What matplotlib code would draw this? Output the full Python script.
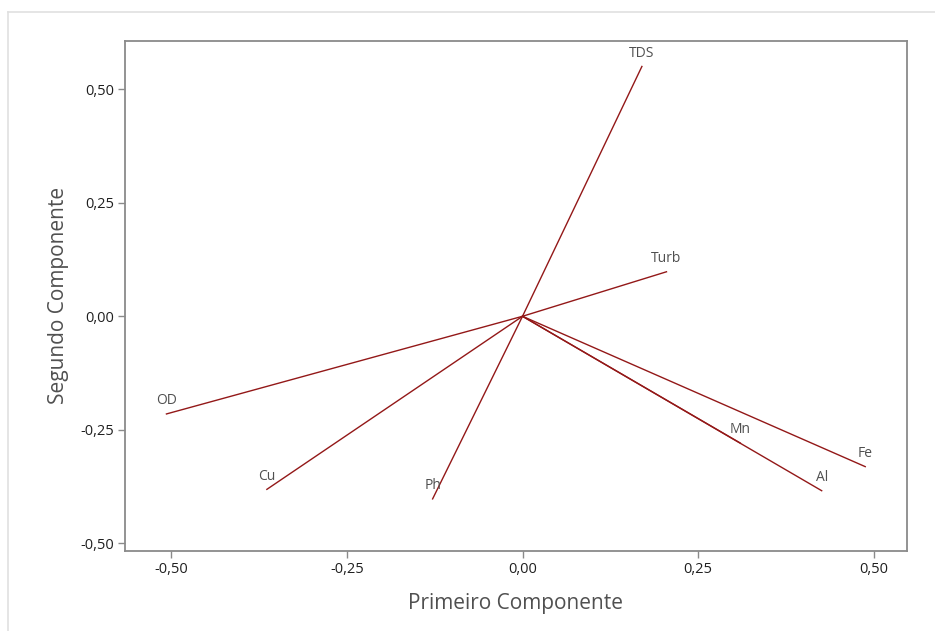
import matplotlib.pyplot as plt
from matplotlib.ticker import FuncFormatter, FixedLocator

# Loadings (first and second component)
variables = ['TDS', 'Turb', 'OD', 'Cu', 'Ph', 'Mn', 'Fe', 'Al']
pc1 = [0.170, 0.205, -0.507, -0.364, -0.128, 0.310, 0.488, 0.426]
pc2 = [0.550, 0.098, -0.215, -0.381, -0.402, -0.279, -0.331, -0.384]

ticks = [-0.50, -0.25, 0.00, 0.25, 0.50]

plt.rcParams['font.family'] = ['Open Sans', 'DejaVu Sans']

fig = plt.figure(figsize=(9.35, 6.31), dpi=100)
ax = fig.add_axes([0.1337, 0.1273, 0.8360, 0.8077])

# light outer border of the graph window
fig.add_artist(plt.Line2D([0.009, 1.0], [0.981, 0.981], transform=fig.transFigure,
                          color='#e0e0e0', lw=1.2))
fig.add_artist(plt.Line2D([0.009, 0.009], [0.0, 0.981], transform=fig.transFigure,
                          color='#e0e0e0', lw=1.2))

line_color = '#931818'
for name, x, y in zip(variables, pc1, pc2):
    ax.plot([0, x], [0, y], color=line_color, lw=1.0)
    ax.annotate(name, (x, y), xytext=(0, 4), textcoords='offset points',
                ha='center', va='bottom', fontsize=10, color='#505050')

ax.set_xlim(-0.566, 0.547)
ax.set_ylim(-0.516, 0.606)

comma = FuncFormatter(lambda v, pos: f'{v:.2f}'.replace('.', ','))
ax.xaxis.set_major_locator(FixedLocator(ticks))
ax.yaxis.set_major_locator(FixedLocator(ticks))
ax.xaxis.set_major_formatter(comma)
ax.yaxis.set_major_formatter(comma)

for side in ax.spines.values():
    side.set_color('#8a8a8a')
    side.set_linewidth(1.3)
ax.tick_params(axis='both', direction='out', length=5, width=1, color='#8a8a8a',
               labelsize=10.5, labelcolor='#202020', pad=3)

ax.set_xlabel('Primeiro Componente', fontsize=15, color='#505050', labelpad=12)
ax.set_ylabel('Segundo Componente', fontsize=15, color='#505050', labelpad=8)

fig.savefig('out.png', dpi=100)
